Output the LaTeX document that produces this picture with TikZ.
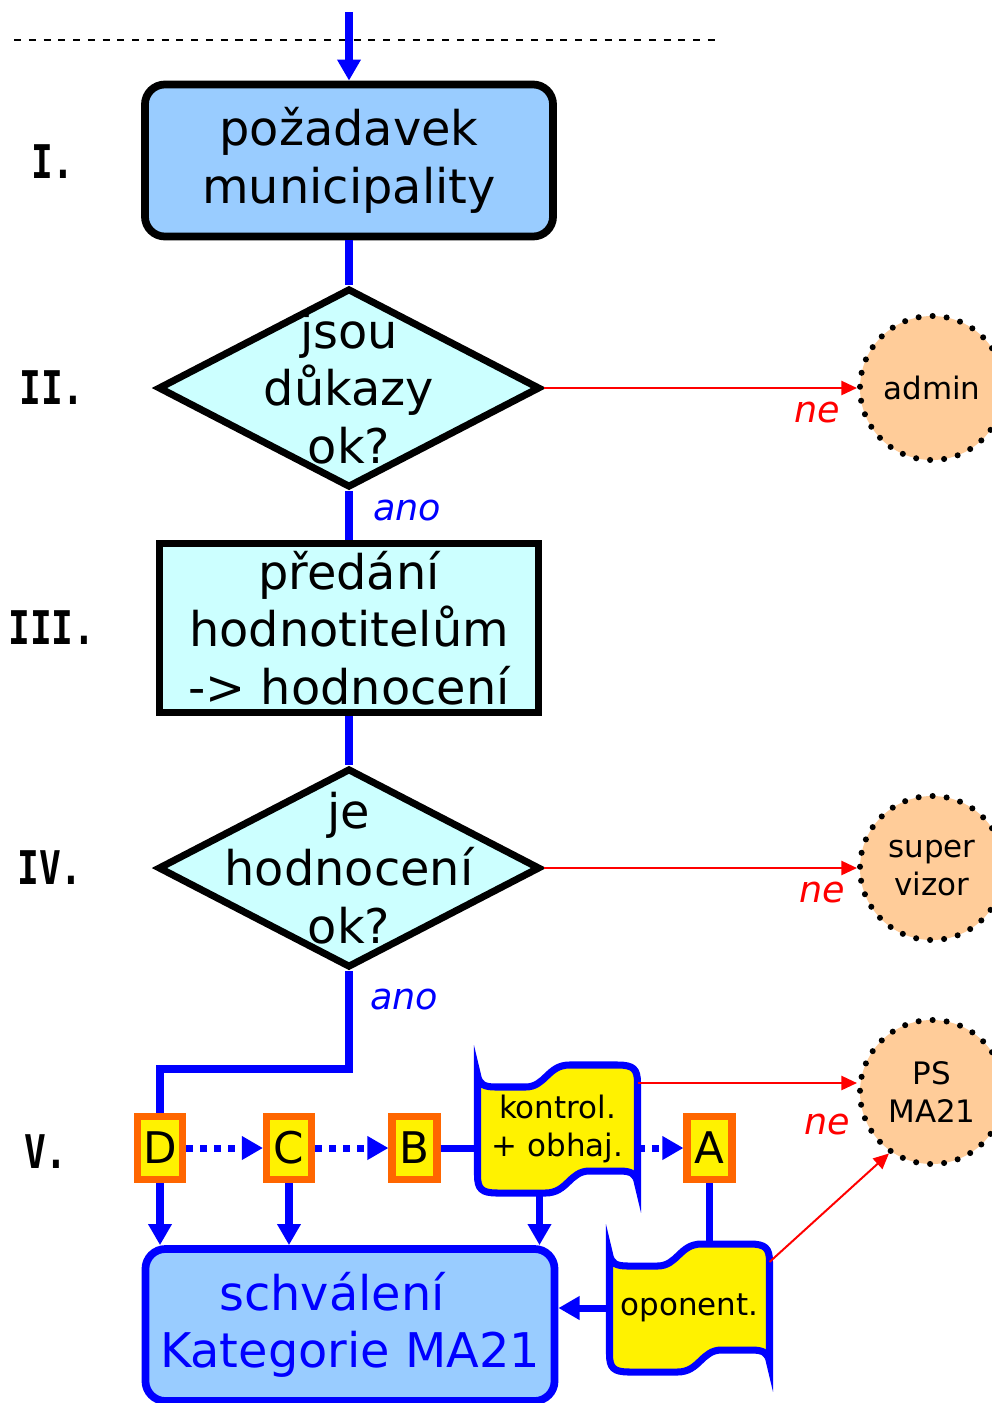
\documentclass[tikz,border=0pt]{standalone}
\usepackage{graphicx}
\usepackage{fontspec}
\setsansfont{DejaVu Sans}
\newfontfamily\numfont{DejaVu Sans Mono}
\usetikzlibrary{arrows.meta,shapes.geometric,calc}
\definecolor{boxblue}{HTML}{99CCFF}
\definecolor{boxcyan}{HTML}{CCFFFF}
\definecolor{peach}{HTML}{FFCC99}
\definecolor{tagorange}{HTML}{FF6600}
\tikzset{
  txt/.style={font=\sffamily\fontsize{34}{41}\selectfont, align=center},
  smalltxt/.style={font=\sffamily\fontsize{22}{27}\selectfont, align=center},
  roman/.style={font=\numfont\bfseries\fontsize{33}{38}\selectfont},
  answer/.style={font=\sffamily\itshape\fontsize{26}{30}\selectfont},
  flow/.style={draw=blue, line width=5pt},
  flowarrow/.style={flow, -{Triangle[length=15pt,width=16pt]}},
  dotarrow/.style={flowarrow, dash pattern=on 5pt off 5pt},
  noarrow/.style={draw=red, line width=1.4pt, -{Triangle[length=11pt,width=10pt]}},
  block/.style={txt, draw, line width=5.5pt, inner sep=0pt},
  decision/.style={diamond, draw, line width=5pt, fill=boxcyan, minimum width=9.55cm, minimum height=4.98cm, inner sep=0pt},
  stop/.style={circle, smalltxt, fill=peach, draw, line width=4.3pt, line cap=round, dash pattern=on 0pt off 10pt, minimum size=3.6cm, inner sep=0pt},
  tag/.style={font=\sffamily\fontsize{31}{37}\selectfont, draw=tagorange, fill=yellow, line width=5pt, minimum width=1.125cm, minimum height=1.575cm, inner sep=0pt},
  sheet/.style={smalltxt, minimum width=4cm, minimum height=3.2cm, inner sep=0pt},
  sheetline/.style={draw=blue, fill=yellow, line width=5pt}
}
\def\lvl#1{\scalebox{0.78}[1]{#1}}
% waving sheet round a named point
\def\wavesheet#1{\draw[sheetline, shift={(#1)}] (-80,-54) .. controls (-78.4,-45) and (-74,-42) .. (-62,-42) -- (-32,-42) .. controls (-12,-42) and (-10,-64) .. (12,-64) -- (60,-64) .. controls (76,-64) and (80,-60) .. (80,-46) coordinate (#1-tr) -- (80,54) .. controls (78.4,45) and (74,42) .. (62,42) -- (32,42) .. controls (12,42) and (10,64) .. (-12,64) -- (-60,64) .. controls (-76,64) and (-80,60) .. (-80,46) -- cycle;}

\begin{document}
\begin{tikzpicture}[x=0.025cm, y=-0.025cm]
\useasboundingbox (0,0) rectangle (992,1403);

% cut line and entry
\coordinate (cutL) at (14,40);
\coordinate (cutR) at (718,40);
\coordinate (entry) at (349,12);
\draw[line width=1.4pt, dash pattern=on 5pt off 5.5pt] (cutL) -- (cutR);

% levels
\node[roman] (lvl1) at (53,162) {\lvl{I.}};
\node[roman] (lvl2) at (52,388) {\lvl{II.}};
\node[roman] (lvl3) at (52,628) {\lvl{III.}};
\node[roman] (lvl4) at (50,868) {\lvl{IV.}};
\node[roman] (lvl5) at (46,1152) {\lvl{V.}};

% main column
\node[block, rounded corners=0.5cm, fill=boxblue, minimum width=10.2cm, minimum height=3.8cm] (req) at (349,160.5) {požadavek\\municipality};
\node[decision, label={[txt]center:{jsou\\důkazy\\ok?}}] (q1) at (349,388) {};
\node[block, fill=boxcyan, minimum width=9.475cm, minimum height=4.225cm] (eval) at (349,628) {předání\\hodnotitelům\\-> hodnocení};
\node[decision, label={[txt]center:{je\\hodnocení\\ok?}}] (q2) at (349,868) {};

% exits
\node[stop] (admin) at (932,388) {admin};
\node[stop] (super) at (932,868) {super\\vizor};
\node[stop] (ps) at (932,1092) {PS\\MA21};

% step V
\node[tag] (tagD) at (160,1148) {D};
\node[tag] (tagC) at (289,1148) {C};
\node[tag] (tagB) at (414.5,1148) {B};
\node[tag] (tagA) at (709.5,1148) {A};
\coordinate (checkpos) at (557.5,1129);
\coordinate (opppos) at (689.5,1308);
\wavesheet{checkpos}
\wavesheet{opppos}
\node[sheet] (check) at (checkpos) {kontrol.\\+ obhaj.};
\node[sheet] (opp) at (opppos) {oponent.};
\node[block, draw=blue, text=blue, rounded corners=0.5cm, fill=boxblue, minimum width=10.225cm, minimum height=3.8cm] (final) at (350,1325) {schválení\hspace*{0.9cm}\\Kategorie MA21};

% answers
\node[answer, text=red] (ne1) at (817,413) {ne};
\node[answer, text=blue] (ano1) at (407,511) {ano};
\node[answer, text=red] (ne2) at (822,893) {ne};
\node[answer, text=blue] (ano2) at (404,1000) {ano};
\node[answer, text=red] (ne3) at (827,1125) {ne};

% connectors
\draw[flowarrow] (entry) -- (req.north);
\draw[flow] (req.south) -- (q1.north);
\draw[flow] (q1.south) -- (eval.north);
\draw[flow] (eval.south) -- (q2.north);
\draw[noarrow] (q1.east) -- (admin.west);
\draw[noarrow] (q2.east) -- (super.west);

\coordinate (bend) at (349,1069);
\draw[flow] (q2.south) -- (bend) -| (tagD.north);
\draw[dotarrow] (tagD.east) -- (tagC.west);
\draw[dotarrow] (tagC.east) -- (tagB.west);
\draw[flow] (tagB.east) -- (tagB.east -| check.west);
\draw[dotarrow] (tagA.west -| check.east) -- (tagA.west);
\draw[flowarrow] (tagD.south) -- (tagD.south |- final.north);
\draw[flowarrow] (tagC.south) -- (tagC.south |- final.north);
\draw[flowarrow] ([xshift=-0.45cm]check.south) -- ([xshift=-0.45cm]check.south |- final.north);
\draw[flow] (tagA.south) -- (tagA.south |- opp.north);
\draw[flowarrow] (opp.west) -- (opp.west -| final.east);
\draw[noarrow] (checkpos-tr) -- (checkpos-tr -| ps.west);
\draw[noarrow] (opppos-tr) -- (ps.235);
\end{tikzpicture}
\end{document}
